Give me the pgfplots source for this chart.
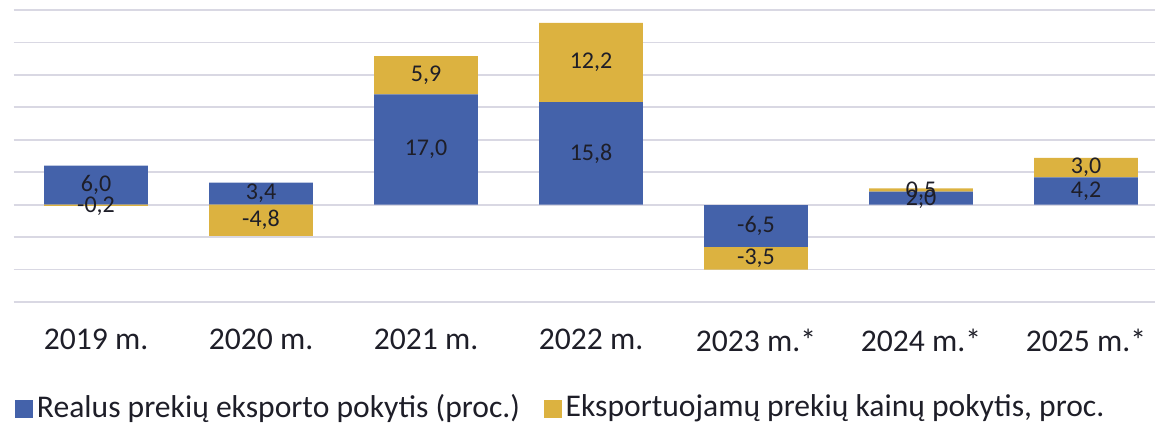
\documentclass[border=0pt]{standalone}
\usepackage{pgfplots}
\usepackage{pgfplotstable}
\pgfplotsset{compat=1.18}
\usepackage{fontspec}
\setmainfont{Carlito}
\definecolor{cblue}{RGB}{68,98,170}
\definecolor{cgold}{RGB}{220,178,64}
\definecolor{cgrid}{RGB}{217,216,227}
\definecolor{ctext}{RGB}{30,30,40}

\pgfplotstableread{
x bluepos goldpos blueneg goldneg
0 6.0  0.0  0.0 -0.2
1 3.4  0.0  0.0 -4.8
2 17.0 5.9  0.0  0.0
3 15.8 12.2 0.0  0.0
4 0.0  0.0 -6.5 -3.5
5 2.0  0.5  0.0  0.0
6 4.2  3.0  0.0  0.0
}\data

\pgfplotstableread{
x y label
0 3.0 6,0
1 1.7 3,4
2 8.5 17,0
3 7.9 15,8
4 -3.25 -6,5
5 0.8 2,0
6 2.1 4,2
}\bluelabels

\pgfplotstableread{
x y label
0 -0.3 -0,2
1 -2.4 -4,8
2 19.95 5,9
3 21.9 12,2
4 -8.25 -3,5
5 2.0 0,5
6 5.7 3,0
}\goldlabels

\pgfplotsset{
  base/.style={
    scale only axis,
    width=570.9pt, height=146pt,
    xmin=-0.5, xmax=6.42,
    ymin=-15, ymax=30,
    axis line style={draw=none},
    major tick length=0pt,
    ytick={-15,-10,...,30},
    yticklabels={},
    bar width=0.63,
    clip=false,
  },
}

\begin{document}
\begin{tikzpicture}
\begin{axis}[base, name=main,
  ybar stacked,
  ymajorgrids,
  grid style={cgrid, line width=0.9pt},
  xtick={0,...,6},
  xticklabels={2019 m., 2020 m., 2021 m., 2022 m., 2023 m.*, 2024 m.*, 2025 m.*},
  xticklabel style={font=\fontsize{15.8}{18}\selectfont, text=ctext, yshift=-10.2pt},
  legend style={draw=none, fill=none, at={(-0.004,-0.36)}, anchor=west,
    font=\fontsize{15.8}{18}\selectfont, text=ctext,
    legend columns=2,
    /tikz/every even column/.append style={column sep=10pt}},
  legend image code/.code={\fill[#1] (0pt,-5.6pt) rectangle (8.8pt,3.4pt);},
]
\addplot[fill=cblue, draw=none] table[x=x, y=bluepos] {\data};
\addlegendentry{Realus prekių eksporto pokytis (proc.)}
\addplot[fill=cgold, draw=none] table[x=x, y=goldpos] {\data};
\addlegendentry{Eksportuojamų prekių kainų pokytis, proc.}
\end{axis}

\begin{axis}[base, ybar stacked, xtick=\empty, ytick=\empty]
\addplot[fill=cblue, draw=none] table[x=x, y=blueneg] {\data};
\addplot[fill=cgold, draw=none] table[x=x, y=goldneg] {\data};
\end{axis}

\begin{axis}[base, xtick=\empty, ytick=\empty,
  nodes near coords, point meta=explicit symbolic,
  every node near coord/.style={anchor=center, font=\fontsize{12}{14}\selectfont, text=ctext}]
\addplot[draw=none, mark=none] table[x=x, y=y, meta=label] {\bluelabels};
\addplot[draw=none, mark=none] table[x=x, y=y, meta=label] {\goldlabels};
\end{axis}

\pgfresetboundingbox
\path ([xshift=-6.75pt,yshift=-62.5pt]main.south west) rectangle ([xshift=0.35pt,yshift=5pt]main.north east);
\end{tikzpicture}
\end{document}
